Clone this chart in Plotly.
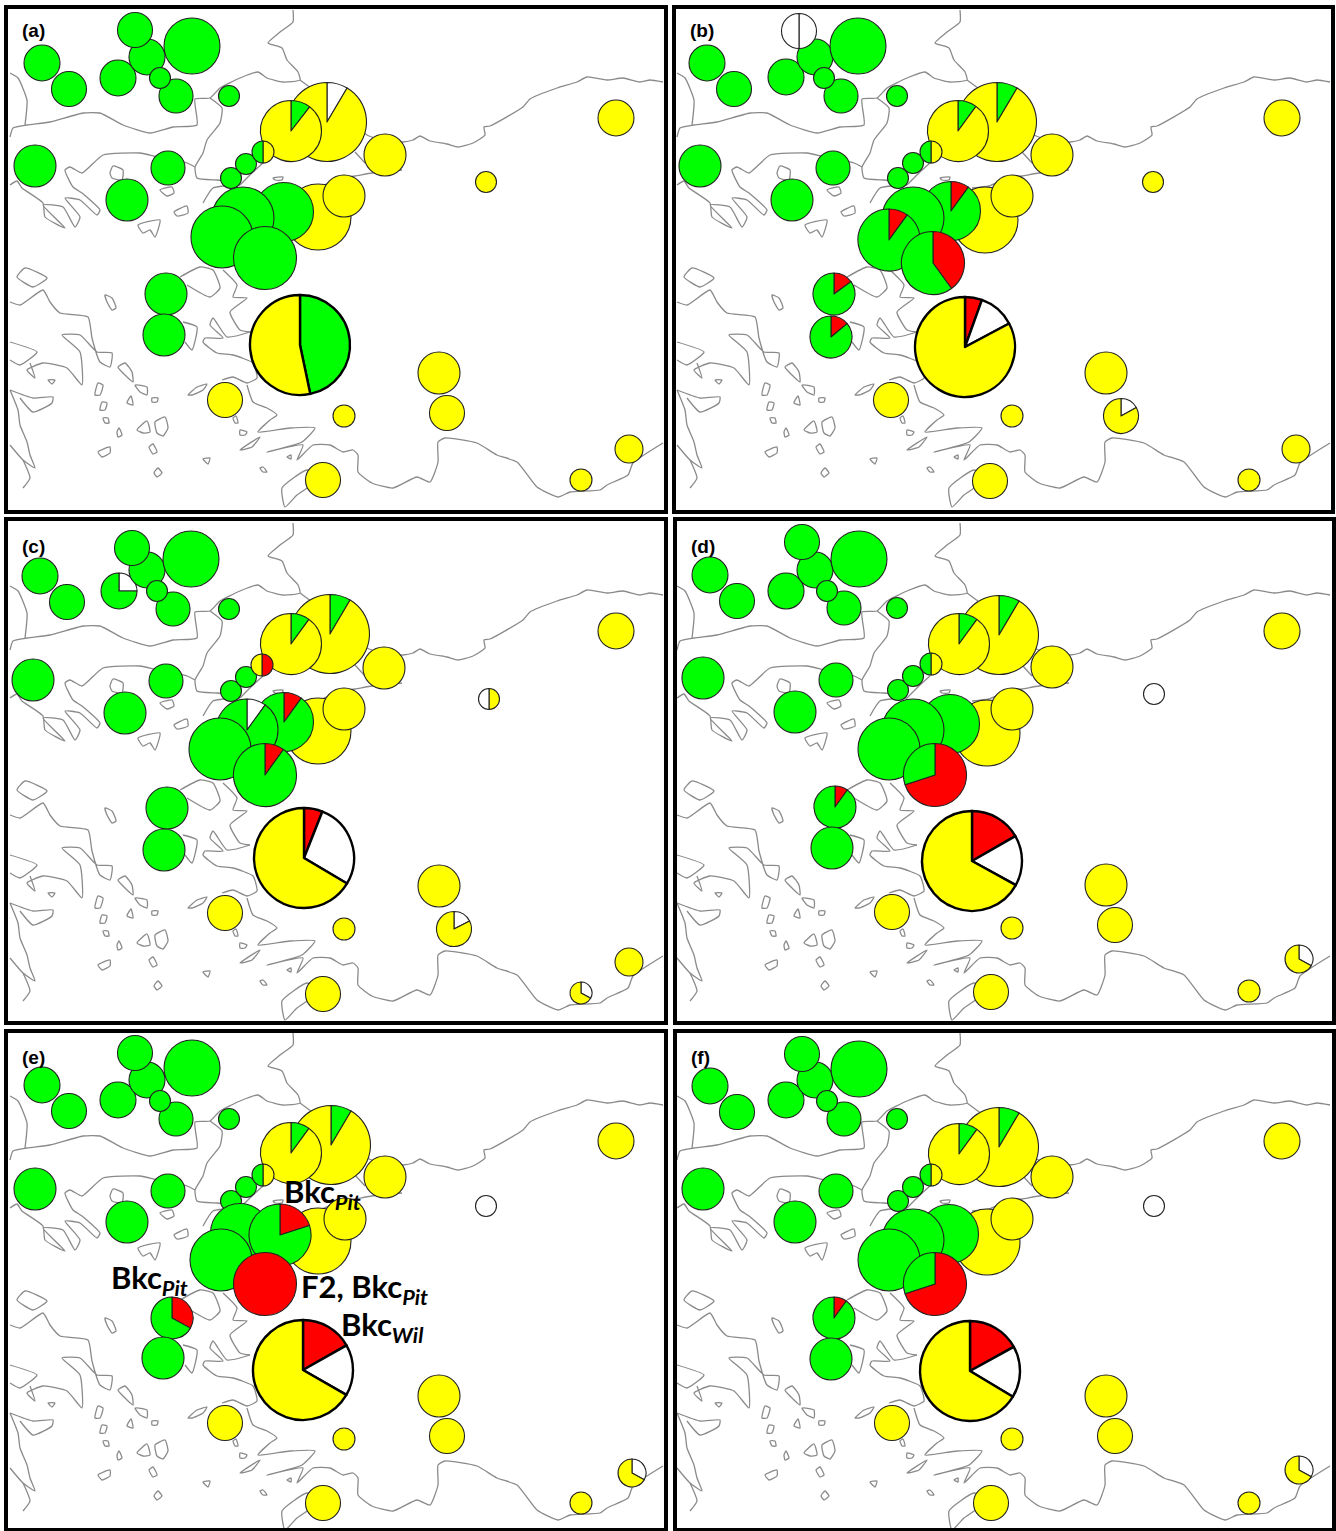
import plotly.graph_objects as go

W, H = 1336, 1531
G, Y, R, N = "#00ff00", "#ffff00", "#ff0000", "#ffffff"

# panel origins for the shared base map
panel_names = ["(a)", "(b)", "(c)", "(d)", "(e)", "(f)"]
label_y = [30, 30, 546, 546, 1057, 1057]
map_dx = [0, 667, 0, 667, 0, 667]
map_dy = [0, 0, 513, 513, 1023, 1023]
frames = [(6, 7, 666, 512), (674, 7, 1333, 512), (6, 519, 666, 1023),
          (675, 519, 1334, 1023), (6, 1031, 666, 1530), (675, 1031, 1334, 1530)]

# site radii
site_r = [18, 17.5, 18, 10.5, 18, 17.5, 28, 17, 10.5, 21, 17, 21, 10.5, 10.5, 11, 39.5, 30.5,
          21, 33, 21, 29.5, 31, 31, 31.5, 21, 21, 50, 17.5, 11, 21, 17.5, 17.5, 11, 14, 18, 10.5]
# stacking order of the sites, bottom first
draw_order = [0, 1, 2, 4, 5, 6, 7, 3, 8, 9, 10, 11, 12, 13, 15, 16, 14, 17, 18, 19, 20, 21, 22, 23,
              24, 25, 26, 27, 28, 29, 30, 31, 32, 33, 34, 35]

site_x_a = [42, 69, 118, 160, 147, 135, 192, 176, 229, 35, 168, 127, 231, 246, 263, 327, 291,
            385, 318, 344, 284, 243, 222, 265, 166, 164, 300, 225, 344, 439, 447, 323, 581, 629, 616, 486]
site_y_a = [63, 89, 78, 78, 57, 30, 46, 96, 96, 166, 168, 200, 178, 164, 152, 122, 131,
            155, 217, 196, 212, 218, 237, 258, 294, 335, 345, 400, 416, 373, 413, 480, 480, 449, 118, 182]
site_x_b = [707, 734, 786, 824, 815, 799, 858, 841, 897, 700, 833, 792, 898, 913, 931, 997, 958,
            1052, 985, 1012, 951, 913, 889, 933, 834, 831, 965, 891, 1012, 1106, 1121, 990, 1249, 1296, 1282, 1153]
site_y_b = [63, 89, 77, 78, 57, 31, 46, 96, 96, 166, 168, 200, 178, 163, 152, 122, 131,
            155, 220, 196, 211, 218, 240, 263, 294, 337, 347, 400, 416, 373, 416, 481, 480, 449, 118, 182]
site_x_c = [40, 67, 119, 157, 147, 132, 191, 173, 229, 33, 166, 125, 231, 246, 262, 330, 291,
            384, 318, 344, 284, 247, 220, 265, 167, 164, 304, 225, 344, 439, 454, 323, 581, 629, 616, 489]
site_y_c = [576, 602, 591, 591, 570, 548, 559, 609, 609, 680, 681, 713, 691, 677, 665, 634, 644,
            668, 731, 709, 722, 730, 749, 775, 808, 850, 858, 913, 929, 886, 929, 994, 993, 962, 631, 699]
site_x_d = [710, 737, 786, 827, 815, 802, 859, 844, 897, 703, 836, 795, 898, 913, 931, 999, 959,
            1052, 987, 1012, 950, 913, 889, 935, 835, 832, 972, 892, 1012, 1106, 1115, 991, 1249, 1299, 1282, 1154]
site_y_d = [575, 601, 591, 591, 570, 542, 559, 608, 608, 678, 680, 712, 690, 676, 664, 635, 644,
            667, 733, 709, 724, 730, 749, 775, 807, 848, 861, 912, 928, 885, 925, 992, 991, 959, 631, 694]
site_x_e = [42, 69, 118, 160, 147, 135, 192, 176, 229, 35, 168, 127, 231, 246, 263, 331, 291,
            385, 318, 345, 240, 280, 221, 265, 172, 163, 303, 225, 344, 439, 447, 323, 581, 632, 616, 486]
site_y_e = [1085, 1111, 1100, 1101, 1080, 1053, 1068, 1119, 1119, 1189, 1191, 1222, 1201, 1187, 1175, 1145, 1153,
            1177, 1241, 1219, 1233, 1235, 1260, 1284, 1318, 1358, 1370, 1423, 1439, 1396, 1436, 1503, 1503, 1473, 1141, 1206]
site_x_f = [710, 737, 786, 827, 815, 802, 859, 844, 897, 703, 836, 795, 898, 913, 931, 999, 959,
            1052, 987, 1012, 949, 913, 889, 935, 834, 831, 970, 892, 1012, 1106, 1115, 991, 1249, 1299, 1282, 1154]
site_y_f = [1086, 1112, 1100, 1101, 1080, 1054, 1069, 1119, 1119, 1189, 1191, 1222, 1201, 1187, 1175, 1147, 1154,
            1177, 1242, 1219, 1234, 1240, 1260, 1284, 1318, 1359, 1371, 1423, 1439, 1396, 1436, 1503, 1503, 1470, 1141, 1206]
site_xs = [site_x_a, site_x_b, site_x_c, site_x_d, site_x_e, site_x_f]
site_ys = [site_y_a, site_y_b, site_y_c, site_y_d, site_y_e, site_y_f]

green_sites = list(range(0, 15)) + [20, 21, 22, 23, 24, 25]

# allele frequencies clockwise from 12 o'clock: panel -> site -> [(colour, share), ...]
mix_a = {14: [(Y, .5), (G, .5)], 16: [(G, .105), (Y, .895)], 15: [(N, .085), (Y, .915)],
         26: [(G, .467), (Y, .533)]}
mix_b = {5: [(N, .5), (N, .5)], 14: [(Y, .5), (G, .5)], 16: [(G, .1), (Y, .9)], 15: [(G, .085), (Y, .915)],
         20: [(R, .1), (G, .9)], 22: [(R, .1), (G, .9)], 23: [(R, .4), (G, .6)],
         24: [(R, .15), (G, .85)], 25: [(R, .14), (G, .86)],
         26: [(R, .055), (N, .117), (Y, .828)], 30: [(N, .17), (Y, .83)]}
mix_c = {2: [(N, .25), (G, .75)], 14: [(R, .5), (Y, .5)], 16: [(G, .1), (Y, .9)], 15: [(G, .085), (Y, .915)],
         20: [(R, .1), (G, .9)], 21: [(N, .1), (G, .9)], 23: [(R, .1), (G, .9)],
         26: [(R, .06), (N, .275), (Y, .665)], 30: [(N, .175), (Y, .825)],
         32: [(N, .33), (Y, .67)], 35: [(Y, .5), (N, .5)]}
mix_d = {14: [(Y, .5), (G, .5)], 16: [(G, .1), (Y, .9)], 15: [(G, .085), (Y, .915)],
         23: [(R, .7), (G, .3)], 24: [(R, .1), (G, .9)],
         26: [(R, .167), (N, .163), (Y, .67)], 33: [(N, .33), (Y, .67)], 35: [(N, 1)]}
mix_e = {14: [(Y, .5), (G, .5)], 16: [(G, .1), (Y, .9)], 15: [(G, .085), (Y, .915)],
         21: [(R, .2), (G, .8)], 23: [(R, 1)], 24: [(R, .33), (G, .67)],
         26: [(R, .168), (N, .165), (Y, .667)], 33: [(N, .33), (Y, .67)], 35: [(N, 1)]}
mix_f = {14: [(Y, .5), (G, .5)], 16: [(G, .1), (Y, .9)], 15: [(G, .085), (Y, .915)],
         23: [(R, .7), (G, .3)], 24: [(R, .1), (G, .9)],
         26: [(R, .17), (N, .166), (Y, .664)], 33: [(N, .33), (Y, .67)], 35: [(N, 1)]}
mixes = [mix_a, mix_b, mix_c, mix_d, mix_e, mix_f]

# base-map polylines
coast_lines = [
    [(293, 10), (293, 22), (280, 32), (268, 43), (282, 48), (287, 60), (298, 72), (300, 80), (283, 82), (267, 78),
     (258, 72), (240, 78), (220, 88), (210, 98), (195, 99), (197, 125), (173, 127), (150, 133), (123, 125), (100, 113),
     (83, 113), (50, 122), (27, 125), (13, 128), (10, 137)],
    [(10, 73), (18, 78), (27, 100), (25, 125)],
    [(210, 98), (222, 108), (220, 123), (207, 140), (203, 153), (195, 167), (197, 178), (217, 180), (233, 181)],
    [(300, 80), (320, 95), (367, 135), (385, 141), (403, 142), (413, 140), (420, 136), (430, 141), (447, 144), (458, 147),
     (473, 143), (485, 135), (484, 127), (490, 126), (523, 107), (530, 99), (557, 88), (577, 82), (587, 77), (607, 80),
     (623, 78), (640, 82), (650, 80), (663, 82)],
    [(355, 152), (365, 163)],
    [(263, 163), (253, 172), (240, 185)],
    [(305, 188), (322, 186), (340, 178), (355, 176), (372, 173), (402, 170)],
    [(10, 185), (17, 181), (22, 188), (43, 203), (45, 217), (65, 228), (43, 205), (63, 207), (75, 227), (80, 217), (65, 198),
     (80, 200), (97, 215), (100, 210), (82, 193), (73, 187), (65, 170), (70, 167), (82, 173), (103, 155), (140, 153),
     (157, 157), (187, 163), (195, 167)],
    [(203, 203), (213, 188), (240, 185)],
    [(223, 270), (237, 285), (233, 297), (247, 298), (230, 312), (240, 330), (250, 332)],
    [(180, 277), (200, 267), (213, 270), (220, 288), (210, 297), (187, 285)],
    [(183, 322), (197, 327), (192, 350), (185, 342)],
    [(250, 332), (227, 337), (213, 318), (210, 325), (223, 338), (205, 338), (203, 342), (217, 353), (233, 355), (253, 363),
     (257, 378), (247, 383), (233, 377), (222, 380)],
    [(247, 385), (253, 402), (267, 408), (277, 415), (270, 420), (258, 432), (290, 428), (315, 428), (302, 442), (267, 452),
     (303, 445), (297, 460), (313, 445), (330, 445), (343, 452), (353, 450), (358, 455), (358, 472), (372, 483), (393, 488),
     (417, 477), (430, 482), (438, 462), (438, 442), (445, 438), (477, 443), (497, 455), (517, 462), (537, 487), (558, 497),
     (570, 492), (600, 490), (607, 485), (628, 475), (633, 463), (663, 443)],
    [(282, 488), (307, 470), (320, 478), (297, 495), (285, 507), (282, 488)],
    [(10, 302), (20, 305), (43, 290), (50, 302), (60, 313), (88, 317), (92, 338), (100, 362), (110, 367), (112, 353),
     (97, 352), (80, 335), (62, 335), (80, 352), (82, 385), (67, 368), (43, 363), (27, 370), (35, 378), (30, 363)],
    [(10, 342), (37, 352), (20, 365), (10, 360)],
    [(10, 390), (33, 398), (53, 397), (52, 403), (33, 412), (20, 398)],
    [(10, 390), (18, 410), (20, 425), (27, 442), (30, 455), (35, 468), (23, 460), (10, 445)],
    [(23, 460), (30, 478), (23, 488)],
    [(17, 277), (25, 268), (47, 278), (33, 287), (17, 277)],
    # islands
    [(105, 295), (112, 298), (116, 308), (112, 310), (107, 302), (105, 295)],
    [(118, 367), (125, 363), (132, 372), (133, 382), (127, 377), (118, 367)],
    [(135, 385), (147, 387), (147, 395), (140, 392), (135, 385)],
    [(95, 395), (98, 383), (103, 385), (100, 395), (95, 395)],
    [(100, 410), (102, 402), (107, 403), (105, 410), (100, 410)],
    [(127, 403), (131, 396), (133, 405), (127, 403)],
    [(152, 398), (158, 398), (157, 402), (152, 402), (152, 398)],
    [(103, 418), (108, 418), (109, 423), (105, 423), (103, 418)],
    [(117, 432), (119, 428), (122, 435), (118, 437), (117, 432)],
    [(137, 430), (147, 421), (150, 432), (143, 433), (137, 430)],
    [(155, 422), (165, 417), (168, 428), (163, 436), (157, 433), (155, 422)],
    [(149, 447), (153, 444), (157, 452), (153, 454), (149, 447)],
    [(98, 452), (110, 447), (110, 453), (102, 457), (98, 452)],
    [(154, 473), (158, 468), (162, 473), (157, 477), (154, 473)],
    [(203, 459), (210, 458), (208, 464), (203, 459)],
    [(260, 468), (263, 467), (267, 472), (263, 472), (260, 468)],
    [(240, 450), (260, 437), (252, 447), (240, 450)],
    [(188, 395), (197, 387), (207, 384), (203, 390), (192, 395), (188, 395)],
    [(233, 418), (236, 416), (238, 423), (235, 423), (233, 418)],
    [(240, 430), (247, 432), (245, 435), (240, 435), (240, 430)],
    [(287, 457), (291, 455), (291, 459), (287, 457)],
    [(48, 380), (55, 380), (52, 384), (48, 380)],
    [(110, 173), (113, 166), (123, 170), (122, 180), (112, 178), (110, 173)],
    [(160, 190), (172, 187), (174, 193), (167, 196), (160, 190)],
    [(174, 212), (187, 206), (188, 213), (177, 216), (174, 212)],
    [(138, 225), (160, 220), (155, 237), (150, 230), (143, 233), (138, 225)],
    [(273, 178), (283, 177), (282, 180), (275, 180), (273, 178)],
]

fig = go.Figure()

# base maps
for dx, dy in zip(map_dx, map_dy):
    xs, ys = [], []
    for line in coast_lines:
        xs += [p[0] + dx for p in line] + [None]
        ys += [p[1] + dy for p in line] + [None]
    fig.add_trace(go.Scatter(x=xs, y=ys, mode="lines",
                             line=dict(color="#8a8a8a", width=1.3, shape="spline", smoothing=0.5),
                             hoverinfo="skip", showlegend=False))

# site pies
for p in range(6):
    for i in draw_order:
        r = site_r[i]
        cx, cy = site_xs[p][i], site_ys[p][i]
        base = G if i in green_sites else Y
        mix = mixes[p].get(i, [(base, 1)])
        big = i == 26
        fig.add_trace(go.Pie(
            values=[m[1] for m in mix],
            marker=dict(colors=[m[0] for m in mix],
                        line=dict(color="#000000" if big else "#222222", width=2.4 if big else 1.1)),
            domain=dict(x=[(cx - r) / W, (cx + r) / W], y=[1 - (cy + r) / H, 1 - (cy - r) / H]),
            sort=False, direction="clockwise", rotation=0, textinfo="none", hoverinfo="skip",
            showlegend=False))

shapes = [dict(type="rect", x0=a, y0=b, x1=c, y1=d, xref="x", yref="y",
               line=dict(color="#000000", width=4), layer="above") for a, b, c, d in frames]

annots = []
for name, f, ly in zip(panel_names, frames, label_y):
    annots.append(dict(x=f[0] + 14, y=ly, xref="x", yref="y", text=f"<b>{name}</b>", showarrow=False,
                       xanchor="left", yanchor="middle",
                       font=dict(family="Liberation Sans", size=19, color="#000000")))

gene_labels = [("Bkc", "Pit", 282, 1193), ("Bkc", "Pit", 109, 1279),
               ("F2, Bkc", "Pit", 299, 1288), ("Bkc", "Wil", 339, 1326)]
for main, sub, lx, ly in gene_labels:
    annots.append(dict(x=lx, y=ly, xref="x", yref="y",
                       text=f"<b>{main}<sub><i>{sub}</i></sub></b>", showarrow=False,
                       xanchor="left", yanchor="middle",
                       font=dict(family="Lato", size=31, color="#000000")))

fig.update_layout(
    width=W, height=H, autosize=False, margin=dict(l=0, r=0, t=0, b=0),
    paper_bgcolor="white", plot_bgcolor="white", showlegend=False,
    xaxis=dict(range=[0, W], visible=False, fixedrange=True),
    yaxis=dict(range=[H, 0], visible=False, fixedrange=True),
    shapes=shapes, annotations=annots,
)
fig.write_html("out.html", config={"displayModeBar": False},
               post_script="document.body.style.margin='0';document.documentElement.style.overflow='hidden';")
